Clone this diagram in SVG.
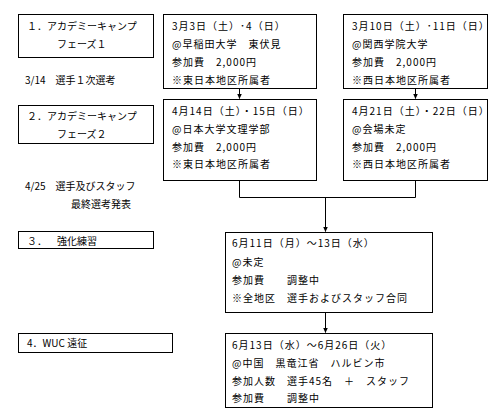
<svg xmlns="http://www.w3.org/2000/svg" width="503" height="418" viewBox="0 0 503 418">
<defs>
<style>
text{font-family:"Noto Sans CJK JP","Noto Sans CJK SC",sans-serif;font-size:10px;fill:#000;letter-spacing:1px;dominant-baseline:central}
text.l{letter-spacing:0}
.box{fill:#fff;stroke:#000;stroke-width:1}
.ln{fill:none;stroke:#000;stroke-width:1}
</style>
<marker id="ah" markerWidth="6" markerHeight="6" refX="5" refY="3" orient="auto" markerUnits="userSpaceOnUse"><path d="M0,0.5 L5.5,3 L0,5.5 z" fill="#000"/></marker>
</defs>
<rect width="503" height="418" fill="#fff"/>
<g id="connectors">
<line class="ln" x1="239.5" y1="88" x2="239.5" y2="98.5" marker-end="url(#ah)"/>
<line class="ln" x1="415.5" y1="88" x2="415.5" y2="98.5" marker-end="url(#ah)"/>
<polyline class="ln" points="239.5,180 239.5,197.5 415.5,197.5 415.5,180"/>
<line class="ln" x1="325.5" y1="197.5" x2="325.5" y2="231.5" marker-end="url(#ah)"/>
<line class="ln" x1="325.5" y1="312" x2="325.5" y2="332.5" marker-end="url(#ah)"/>
</g>
<g id="phase1">
<rect class="box" x="18.5" y="14.5" width="135" height="43"/>
<text class="l" x="27" y="25">１．アカデミーキャンプ</text>
<text class="l" x="57" y="43">フェーズ１</text>
</g>
<g id="sel1"><text class="l" x="25" y="79">3/14　選手１次選考</text></g>
<g id="phase2">
<rect class="box" x="18.5" y="105.5" width="135" height="38"/>
<text class="l" x="27" y="115">２．アカデミーキャンプ</text>
<text class="l" x="57" y="133">フェーズ２</text>
</g>
<g id="sel2">
<text class="l" x="25" y="185">4/25　選手及びスタッフ</text>
<text class="l" x="71" y="203">最終選考発表</text>
</g>
<g id="camp3">
<rect class="box" x="18.5" y="231.5" width="135" height="17"/>
<text class="l" x="27" y="240">３．</text>
<text class="l" x="57" y="240">強化練習</text>
</g>
<g id="camp4">
<rect class="box" x="18.5" y="333.5" width="154" height="19"/>
<text class="l" x="27" y="342">4．WUC 遠征</text>
</g>
<g id="boxA">
<rect class="box" x="163.5" y="14.5" width="153" height="74"/>
<text x="172" y="25">3月3日（土）･4（日）</text>
<text x="172" y="43">@早稲田大学　東伏見</text>
<text x="172" y="61">参加費　2,000円</text>
<text x="172" y="79">※東日本地区所属者</text>
</g>
<g id="boxB">
<rect class="box" x="343.5" y="14.5" width="144" height="74"/>
<text x="352" y="25">3月10日（土）･11日（日）</text>
<text x="352" y="43">@関西学院大学</text>
<text x="352" y="61">参加費　2,000円</text>
<text x="352" y="79">※西日本地区所属者</text>
</g>
<g id="boxC">
<rect class="box" x="163.5" y="99.5" width="153" height="81"/>
<text x="172" y="110">4月14日（土）・15日（日）</text>
<text x="172" y="128">@日本大学文理学部</text>
<text x="172" y="146">参加費　2,000円</text>
<text x="172" y="163">※東日本地区所属者</text>
</g>
<g id="boxD">
<rect class="box" x="343.5" y="99.5" width="144" height="81"/>
<text x="352" y="110">4月21日（土）・22日（日）</text>
<text x="352" y="128">@会場未定</text>
<text x="352" y="146">参加費　2,000円</text>
<text x="352" y="163">※西日本地区所属者</text>
</g>
<g id="boxE">
<rect class="box" x="225.5" y="232.5" width="207" height="80"/>
<text x="232" y="242">6月11日（月）～13日（水）</text>
<text x="232" y="261">@未定</text>
<text x="232" y="279">参加費　　調整中</text>
<text x="232" y="297">※全地区　選手およびスタッフ合同</text>
</g>
<g id="boxF">
<rect class="box" x="225.5" y="333.5" width="207" height="74"/>
<text x="232" y="344">6月13日（水）～6月26日（火）</text>
<text x="232" y="362">@中国　黒竜江省　ハルビン市</text>
<text x="232" y="380">参加人数　選手45名　＋　スタッフ</text>
<text x="232" y="397">参加費　　調整中</text>
</g>
</svg>
